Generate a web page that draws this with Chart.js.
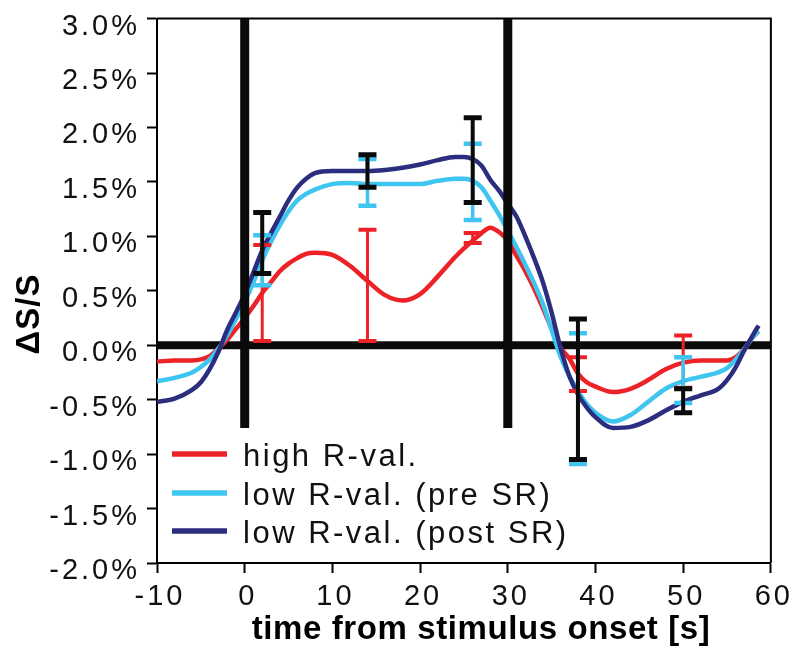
<!DOCTYPE html>
<html><head><meta charset="utf-8">
<script src="https://cdn.jsdelivr.net/npm/chart.js@4/dist/chart.umd.min.js"></script>
<style>html,body{margin:0;padding:0;background:#fff;}</style>
</head><body>
<canvas id="c" width="797" height="654"></canvas>
<script>
// ---- data ----
const times   = [-10,-8,-6,-5,-4,-3,-2,-1,0,1,2,3,4,5,6,7,8,10,12,14,16,18,20,22,24,25,26,27,28,29,30,31,32,33,34,35,36,37,38,39,40,42,44,46,48,50,52,54,55,56,57,58,58.6];
const highR   = [-0.15,-0.14,-0.14,-0.13,-0.10,-0.03,0.05,0.15,0.25,0.36,0.48,0.58,0.68,0.75,0.80,0.84,0.85,0.83,0.73,0.59,0.46,0.41,0.47,0.63,0.81,0.89,0.96,1.03,1.08,1.04,0.96,0.82,0.68,0.52,0.34,0.15,-0.02,-0.12,-0.26,-0.34,-0.38,-0.43,-0.40,-0.32,-0.22,-0.16,-0.14,-0.14,-0.14,-0.11,-0.03,0.08,0.13];
const lowPre  = [-0.33,-0.30,-0.25,-0.20,-0.13,-0.03,0.09,0.24,0.40,0.58,0.78,0.95,1.10,1.23,1.33,1.39,1.43,1.48,1.49,1.48,1.48,1.48,1.48,1.51,1.53,1.53,1.51,1.45,1.33,1.20,1.05,0.90,0.74,0.57,0.38,0.14,-0.10,-0.28,-0.42,-0.54,-0.62,-0.70,-0.64,-0.52,-0.40,-0.33,-0.29,-0.25,-0.21,-0.13,-0.03,0.08,0.13];
const lowPost = [-0.52,-0.49,-0.41,-0.34,-0.22,-0.06,0.14,0.30,0.47,0.67,0.87,1.03,1.18,1.33,1.45,1.53,1.58,1.60,1.60,1.60,1.61,1.63,1.66,1.70,1.73,1.73,1.71,1.65,1.52,1.42,1.30,1.18,1.00,0.80,0.58,0.30,-0.02,-0.28,-0.45,-0.57,-0.66,-0.76,-0.75,-0.69,-0.60,-0.52,-0.46,-0.40,-0.32,-0.20,-0.04,0.10,0.18];

const errTimes     = [2, 14, 26, 38, 50];
const highRLow     = [0.04, 0.04, 0.94, -0.42, -0.39];
const highRHigh    = [0.92, 1.06, 1.03, -0.11, 0.09];
const lowPreLow    = [0.55, 1.28, 1.15, -1.09, -0.53];
const lowPreHigh   = [1.01, 1.71, 1.85, 0.11, -0.11];
const lowPostLow   = [0.66, 1.45, 1.31, -1.05, -0.62];
const lowPostHigh  = [1.22, 1.75, 2.09, 0.24, -0.40];

const seriesLabels = ['high R-val.', 'low R-val. (pre SR)', 'low R-val. (post SR)'];
const xTicks = [-10, 0, 10, 20, 30, 40, 50, 60];
const yTicks = [-2.0, -1.5, -1.0, -0.5, 0.0, 0.5, 1.0, 1.5, 2.0, 2.5, 3.0];
const stimulusMarks = [0, 30];
const markTop = 3.0, markBottom = -0.76;
const zeroLine = [-10, 60];
const xTitle = 'time from stimulus onset [s]';
const yTitle = '\u0394S/S';

// ---- styles ----
const RED = '#ec2227', LIGHT = '#3ec6f0', NAVY = '#2b2d7e', BLACK = '#0a0a0a';
const FAMILY = '"Liberation Sans", Arial, Helvetica, sans-serif';
Chart.defaults.font.family = FAMILY;
Chart.defaults.color = '#111';

const pts = arr => times.map((t, i) => ({x: t, y: arr[i]}));
const curve = (label, arr, color, order) => ({
  label, data: pts(arr), borderColor: color, backgroundColor: color,
  borderWidth: 4.5, pointRadius: 0, fill: false, cubicInterpolationMode: 'monotone', order
});

const datasets = [
  curve(seriesLabels[0], highR, RED, 3),
  curve(seriesLabels[1], lowPre, LIGHT, 2),
  curve(seriesLabels[2], lowPost, NAVY, 1),
  {label: '', data: zeroLine.map(x => ({x, y: 0})), borderColor: BLACK, borderWidth: 8, pointRadius: 0, order: 10, borderCapStyle: 'butt'}
];
stimulusMarks.forEach(m => datasets.push({
  label: '', data: [{x: m, y: markTop}, {x: m, y: markBottom}], borderColor: BLACK, borderWidth: 9, pointRadius: 0, order: 0, borderCapStyle: 'butt'
}));

const errGroups = [
  {lo: highRLow, hi: highRHigh, color: RED, lw: 3, capW: 4},
  {lo: lowPreLow, hi: lowPreHigh, color: LIGHT, lw: 3.5, capW: 4.5},
  {lo: lowPostLow, hi: lowPostHigh, color: BLACK, lw: 4, capW: 5}
];

const spacing = {
  id: 'spacing',
  beforeUpdate(c) { c.ctx.letterSpacing = '3px'; },
  beforeLayout(c) { c.ctx.letterSpacing = '3px'; },
  beforeDraw(c) { c.ctx.letterSpacing = '3px'; }
};

const frame = {
  id: 'frame',
  beforeDatasetsDraw(c) {
    const {ctx, chartArea: a} = c;
    ctx.save();
    ctx.strokeStyle = '#000'; ctx.lineWidth = 2;
    ctx.beginPath();
    ctx.moveTo(a.left, a.top); ctx.lineTo(a.right, a.top); ctx.lineTo(a.right, a.bottom);
    ctx.stroke();
    ctx.restore();
  }
};

const errorBars = {
  id: 'errorBars',
  afterDatasetsDraw(c) {
    const {ctx} = c; const xs = c.scales.x, ys = c.scales.y;
    const half = 9;
    ctx.save();
    ctx.lineCap = 'butt';
    errGroups.forEach(g => {
      ctx.strokeStyle = g.color;
      errTimes.forEach((t, i) => {
        const x = xs.getPixelForValue(t);
        const y1 = ys.getPixelForValue(g.lo[i]);
        const y2 = ys.getPixelForValue(g.hi[i]);
        ctx.lineWidth = g.lw;
        ctx.beginPath(); ctx.moveTo(x, y1); ctx.lineTo(x, y2); ctx.stroke();
        ctx.lineWidth = g.capW;
        ctx.beginPath();
        ctx.moveTo(x - half, y1); ctx.lineTo(x + half, y1);
        ctx.moveTo(x - half, y2); ctx.lineTo(x + half, y2);
        ctx.stroke();
      });
    });
    ctx.restore();
  }
};

const legendAndTitles = {
  id: 'legendAndTitles',
  afterDraw(c) {
    const {ctx} = c;
    const colors = [RED, LIGHT, NAVY];
    ctx.save();
    ctx.letterSpacing = '2.5px';
    ctx.font = '31px ' + FAMILY;
    ctx.textAlign = 'left'; ctx.textBaseline = 'alphabetic';
    ctx.fillStyle = '#111';
    const baselines = [466, 505, 543];
    seriesLabels.forEach((lab, i) => {
      const yLine = baselines[i] - 12;
      ctx.strokeStyle = colors[i]; ctx.lineWidth = 5.5; ctx.lineCap = 'butt';
      ctx.beginPath(); ctx.moveTo(172, yLine); ctx.lineTo(227, yLine); ctx.stroke();
      ctx.fillText(lab, 243, baselines[i]);
    });
    ctx.restore();

    // x axis title
    ctx.save();
    ctx.letterSpacing = '0.6px';
    ctx.font = 'bold 33px ' + FAMILY;
    ctx.fillStyle = '#000';
    ctx.textAlign = 'center'; ctx.textBaseline = 'middle';
    ctx.fillText(xTitle, 481, 630);
    ctx.restore();

    // y axis title
    ctx.save();
    ctx.letterSpacing = '1px';
    ctx.font = 'bold 33px ' + FAMILY;
    ctx.fillStyle = '#000';
    ctx.translate(30, 314);
    ctx.rotate(-Math.PI / 2);
    ctx.textAlign = 'center'; ctx.textBaseline = 'middle';
    ctx.fillText(yTitle, 0, 0);
    ctx.restore();
  }
};

new Chart(document.getElementById('c'), {
  type: 'line',
  data: {datasets},
  options: {
    responsive: false, animation: false, devicePixelRatio: 1,
    layout: {padding: {left: 0, right: 23, top: 13, bottom: 0}},
    plugins: {legend: {display: false}, tooltip: {enabled: false}},
    scales: {
      x: {
        type: 'linear', min: -10, max: 60,
        afterBuildTicks: s => { s.ticks = xTicks.map(v => ({value: v})); },
        afterFit: s => { s.height = 91; },
        ticks: {font: {size: 29}, color: '#111', padding: 7, maxRotation: 0, autoSkip: false, labelOffset: 3},
        grid: {display: true, drawOnChartArea: false, drawTicks: true, tickLength: 10, tickWidth: 2, tickColor: '#000'},
        border: {display: true, width: 2, color: '#000'},
        title: {display: false, text: xTitle}
      },
      y: {
        type: 'linear', min: -2, max: 3,
        afterBuildTicks: s => { s.ticks = yTicks.map(v => ({value: v})); },
        afterFit: s => { s.width = 157; },
        ticks: {font: {size: 29, lineHeight: 0.8}, color: '#111', padding: 7, labelOffset: 8,
                callback: v => Number(v).toFixed(1) + '%'},
        grid: {display: true, drawOnChartArea: false, drawTicks: true, tickLength: 10, tickWidth: 2, tickColor: '#000'},
        border: {display: true, width: 2, color: '#000'},
        title: {display: false, text: yTitle}
      }
    }
  },
  plugins: [spacing, frame, errorBars, legendAndTitles]
});
</script>
</body></html>
